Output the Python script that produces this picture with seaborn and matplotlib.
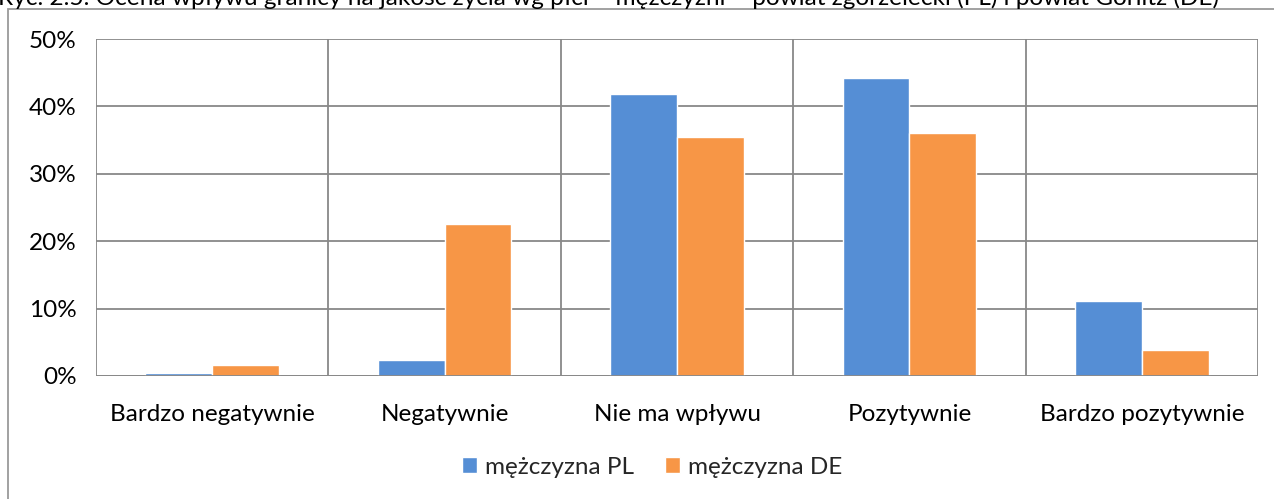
import pandas as pd
import matplotlib.pyplot as plt
import seaborn as sns
from matplotlib.patches import Rectangle
from matplotlib.ticker import FuncFormatter, MultipleLocator

# --- data ---
categories = ['Bardzo negatywnie', 'Negatywnie', 'Nie ma wpływu', 'Pozytywnie', 'Bardzo pozytywnie']
series_names = ['mężczyzna PL', 'mężczyzna DE']
values_pl = [0.4, 2.3, 41.9, 44.2, 11.2]
values_de = [1.6, 22.5, 35.5, 36.1, 3.9]
title = 'Ryc. 2.5. Ocena wpływu granicy na jakość życia wg płci – mężczyźni – powiat zgorzelecki (PL) i powiat Görlitz (DE)'

colors = ['#558ED5', '#F79646']
grid_color = '#888888'

sns.set_style('white')
plt.rcParams['font.family'] = ['Lato', 'DejaVu Sans']

df = pd.DataFrame({
    'kategoria': categories * 2,
    'seria': [series_names[0]] * len(categories) + [series_names[1]] * len(categories),
    'wartosc': values_pl + values_de,
})

W, H = 1274, 499
fig = plt.figure(figsize=(W / 100, H / 100), dpi=100)
ax = fig.add_axes([96 / W, 1 - 376 / H, (1258 - 96) / W, (376 - 39) / H])

sns.barplot(data=df, x='kategoria', y='wartosc', hue='seria', order=categories,
            hue_order=series_names, palette=colors, width=0.575, saturation=1,
            ax=ax, zorder=3)

ax.set_ylim(0, 50)
ax.set_xlim(-0.5, len(categories) - 0.5)
ax.yaxis.set_major_locator(MultipleLocator(10))
ax.yaxis.set_major_formatter(FuncFormatter(lambda v, _: f'{v:.0f}%'))

# category boundaries as minor ticks / vertical grid
ax.set_xticks([i - 0.5 for i in range(len(categories) + 1)], minor=True)
ax.grid(True, axis='y', which='major', color=grid_color, lw=1.3, zorder=0)
ax.grid(True, axis='x', which='minor', color=grid_color, lw=1.3, zorder=0)
ax.grid(False, axis='x', which='major')

ax.tick_params(axis='x', which='major', length=0, pad=20, labelsize=17.5, labelcolor='black')
ax.tick_params(axis='x', which='minor', length=8, width=1.3, color=grid_color, direction='out')
ax.tick_params(axis='y', which='major', length=8, width=1.3, color=grid_color, direction='out',
               pad=6, labelsize=17.5, labelcolor='black')

for s in ax.spines.values():
    s.set_visible(False)
ax.axhline(0, color=grid_color, lw=1.3, zorder=4)

ax.set_xlabel('')
ax.set_ylabel('')

handles, labels = ax.get_legend_handles_labels()
ax.legend(handles, labels, loc='center', bbox_to_anchor=(652 / W, 1 - 467 / H),
          bbox_transform=fig.transFigure, ncol=2, frameon=False, fontsize=17.5,
          handlelength=0.62, handleheight=0.62, handletextpad=0.3, columnspacing=1.3)

# outer chart frame (cut off at right and bottom)
fig.patches.append(Rectangle((8 / W, -0.1), 1.2, 1 - 9 / H + 0.1, transform=fig.transFigure,
                             fill=False, edgecolor='#9a9a9a', lw=1.3))

# title, cut off at the top in the reference
fig.text(-2 / W, 1 - 5 / H, title, ha='left', va='baseline', fontsize=17.6, color='black')

fig.savefig('out.png', dpi=100)
